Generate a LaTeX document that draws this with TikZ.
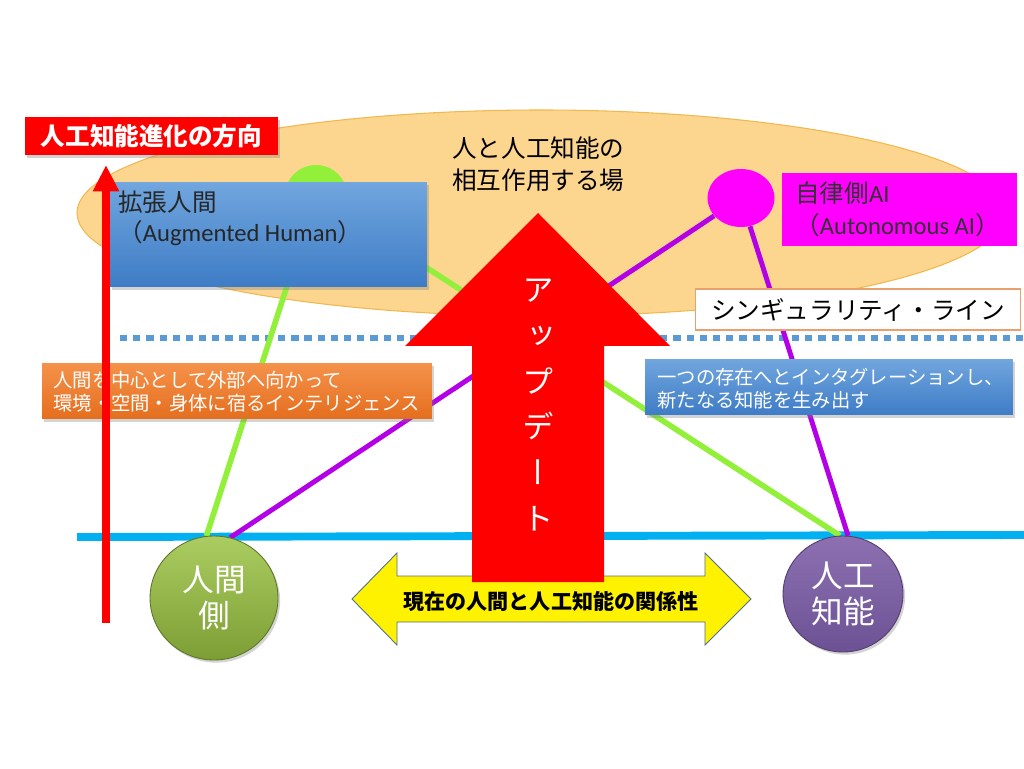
\documentclass[tikz,border=0pt]{standalone}
\usepackage{fontspec}
\setmainfont{Noto Sans CJK JP}
\newfontfamily\latinfont{Carlito}
\newfontfamily\vertfont[RawFeature=+vert]{Noto Sans CJK JP}
\usepackage{tikz}
\usetikzlibrary{arrows.meta, positioning, shapes.geometric, shadows}
\definecolor{fieldorange}{RGB}{252,213,142}
\definecolor{fieldedge}{RGB}{240,184,80}
\definecolor{augtop}{RGB}{113,166,222}
\definecolor{augbottom}{RGB}{62,124,198}
\definecolor{linkgreen}{RGB}{146,240,58}
\definecolor{linkpurple}{RGB}{180,0,230}
\definecolor{autopink}{RGB}{255,0,255}
\definecolor{lineblue}{RGB}{0,176,240}
\definecolor{dashblue}{RGB}{91,155,213}
\definecolor{envtop}{RGB}{245,146,75}
\definecolor{envbottom}{RGB}{228,110,30}
\definecolor{humantop}{RGB}{170,204,96}
\definecolor{humanbottom}{RGB}{124,158,52}
\definecolor{aitop}{RGB}{140,112,178}
\definecolor{aibottom}{RGB}{108,82,148}
\definecolor{singedge}{RGB}{232,160,110}
\definecolor{reledge}{RGB}{80,110,145}
\pgfdeclarelayer{bg}
\pgfsetlayers{bg,main}

\begin{document}
\begin{tikzpicture}[x=0.02cm, y=0.02cm,
    box/.style={rectangle, inner sep=0pt},
    softshadow/.style={drop shadow={opacity=0.35, shadow xshift=1.2pt, shadow yshift=-1.5pt}},
    bluebox/.style={box, top color=augtop, bottom color=augbottom, softshadow},
    txt/.style={inner sep=0pt, align=left, anchor=west},
    link/.style={line width=3.2pt},
    ball/.style={ellipse, inner sep=0pt, text=white, align=center,
      font=\fontsize{18}{20}\selectfont, softshadow}]
  \useasboundingbox (0,0) rectangle (1024,768);
  % field of interaction
  \begin{pgfonlayer}{bg}
    \filldraw[fill=fieldorange, draw=fieldedge, line width=0.6pt]
      (541,555) ellipse [x radius=464, y radius=103];
    \draw[lineblue, line width=4.5pt] (77,231) -- (1024,233);
    \draw[dashblue, line width=3.8pt, dash pattern=on 4.1pt off 3.4pt] (120,430) -- (1024,430);
  \end{pgfonlayer}
  \node[ellipse, fill=linkgreen, minimum width=1.24cm, minimum height=1.24cm] (augdot) at (316,572) {};
  \node[ellipse, fill=autopink, minimum width=1.34cm, minimum height=1.16cm] (autodot) at (741,570) {};
  \node[txt, font=\fontsize{14}{18}\selectfont] (fieldtext) at (452,604) {人と人工知能の\\相互作用する場};
  % augmented human
  \node[bluebox, minimum width=6.34cm, minimum height=2.1cm] (augbox) at (268.5,533.5) {};
  \node[txt, font=\fontsize{14}{17}\selectfont, text=black!85] (augtext) at (118,550)
    {拡張人間\\（{\latinfont Augmented Human}）};
  % autonomous AI
  \node[box, fill=autopink, minimum width=4.7cm, minimum height=1.46cm] (autobox) at (899.5,558.5) {};
  \node[txt, font=\fontsize{14}{18.5}\selectfont, text=black!80] (autotext) at (795,558.5)
    {自律側{\latinfont AI}\\（{\latinfont Autonomous AI}）};
  \node[box, fill=white, draw=singedge, line width=0.8pt, minimum width=6.5cm, minimum height=0.82cm,
    font=\fontsize{14}{16}\selectfont] (sing) at (858,458.5) {シンギュラリティ・ライン};
  % notes
  \node[box, top color=envtop, bottom color=envbottom, softshadow,
    minimum width=7.8cm, minimum height=1.12cm] (envbox) at (237,377) {};
  \node[txt, text=white, font=\fontsize{11}{13}\selectfont] (envtext) at (53,376.5)
    {人間を中心として外部へ向かって\\環境・空間・身体に宿るインテリジェンス};
  \node[bluebox, minimum width=7.36cm, minimum height=1.12cm] (intbox) at (829,381) {};
  \node[txt, text=white, font=\fontsize{11}{13}\selectfont] (inttext) at (657,379.5)
    {一つの存在へとインタグレーションし、\\新たなる知能を生み出す};
  % the two sides
  \node[ball, minimum width=2.56cm, minimum height=2.48cm, top color=humantop, bottom color=humanbottom,
    draw=humanbottom!75!black, line width=0.5pt] (human) at (214,170) {人間\\側};
  \node[ball, minimum width=2.4cm, minimum height=2.32cm, top color=aitop, bottom color=aibottom,
    draw=aibottom!75!black, line width=0.5pt] (ai) at (843,174) {人工\\知能};
  \begin{pgfonlayer}{bg}
    \draw[link, linkgreen] (human.97) -- (augdot);
    \draw[link, linkgreen] (augdot) -- (ai.93);
    \draw[link, linkpurple, line width=2.8pt] (human.75) -- (autodot);
    \draw[link, linkpurple, line width=2.8pt] (autodot) -- (ai.85);
  \end{pgfonlayer}
  % present relation
  \filldraw[fill=yellow, draw=reledge, line width=0.5pt] (352,169) -- (397,215) -- (397,192) -- (705,192)
    -- (705,215) -- (751,169) -- (705,123) -- (705,146) -- (397,146) -- (397,123) -- cycle;
  \node[font=\bfseries\fontsize{12}{14}\selectfont, inner sep=0pt] (rel) at (551,167) {現在の人間と人工知能の関係性};
  % update arrow
  \fill[red] (538,555) -- (670,422) -- (604,422) -- (604,186) -- (472,186) -- (472,422) -- (405,422) -- cycle;
  \node[text=white, font=\vertfont\fontsize{18}{26}\selectfont, align=center, inner sep=0pt] (upd) at (538,363)
    {ア\\ッ\\プ\\デ\\ー\\ト};
  % direction of evolution
  \coordinate (dirfoot) at (106,145);
  \coordinate (dirtip) at (106,603);
  \draw[red, line width=4.5pt, -{Triangle[width=14pt, length=15pt]}] (dirfoot) -- (dirtip);
  \node[box, fill=red, text=white, font=\bfseries\fontsize{14}{16}\selectfont, softshadow,
    minimum width=5.06cm, minimum height=0.76cm] (dirlabel) at (151.5,632) {人工知能進化の方向};
\end{tikzpicture}
\end{document}
